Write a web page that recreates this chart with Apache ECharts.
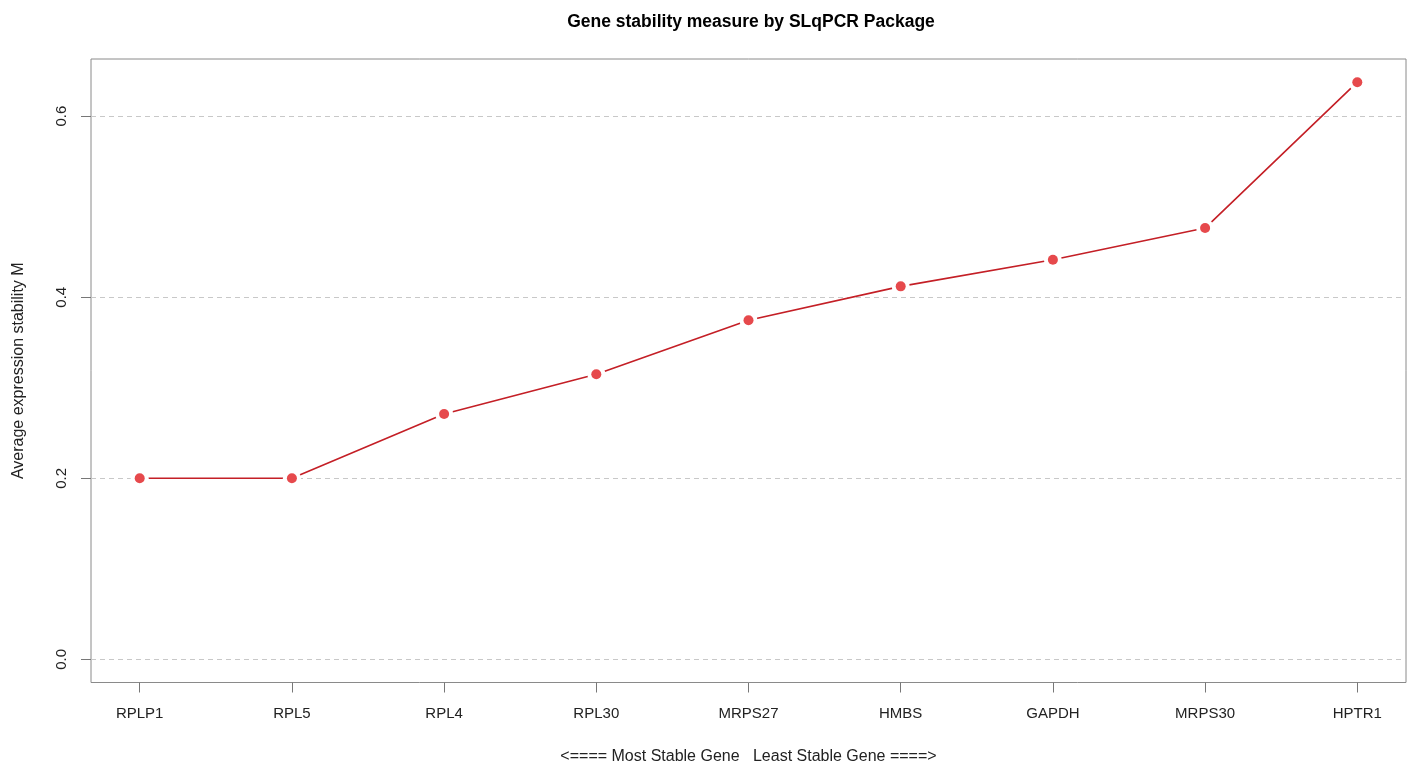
<!DOCTYPE html>
<html>
<head>
<meta charset="utf-8">
<title>Gene stability measure by SLqPCR Package</title>
<script src="https://cdn.jsdelivr.net/npm/echarts@6/dist/echarts.min.js"></script>
<style>
  html, body { margin: 0; padding: 0; background: #ffffff; }
  #chart { width: 1411px; height: 765px; }
</style>
</head>
<body>
<div id="chart"></div>
<script>
// Reference genes ordered from most to least stable
const genes = ['RPLP1', 'RPL5', 'RPL4', 'RPL30', 'MRPS27', 'HMBS', 'GAPDH', 'MRPS30', 'HPTR1'];
// Average expression stability M for each gene
const stabilityM = [0.200, 0.200, 0.271, 0.315, 0.3745, 0.412, 0.4414, 0.4764, 0.6375];
// Y tick values
const yTicks = [0.0, 0.2, 0.4, 0.6];

const positions = genes.map((g, i) => i + 1);
const points = stabilityM.map((v, i) => [positions[i], v]);

const FONT = 'Liberation Sans, Arial, Helvetica, sans-serif';
const chart = echarts.init(document.getElementById('chart'), null, { renderer: 'canvas' });

chart.setOption({
  backgroundColor: '#ffffff',
  animation: false,
  title: {
    text: 'Gene stability measure by SLqPCR Package',
    left: 746,
    top: 8,
    textAlign: 'center',
    textStyle: { fontFamily: FONT, fontSize: 17.5, fontWeight: 'bold', color: '#000' }
  },
  grid: {
    left: 91,
    right: 5,
    top: 59,
    bottom: 82.5,
    outerBoundsMode: 'none',
    containLabel: false,
    show: true,
    borderColor: '#8a8a8a',
    borderWidth: 1,
    backgroundColor: 'transparent'
  },
  xAxis: {
    type: 'value',
    min: 0.68,
    max: 9.32,
    position: 'bottom',
    name: '<==== Most Stable Gene   Least Stable Gene ====>',
    nameLocation: 'middle',
    nameGap: 66,
    nameTextStyle: { fontFamily: FONT, fontSize: 16, color: '#222' },
    axisLine: { show: false, onZero: false },
    splitLine: { show: false },
    axisTick: {
      show: true,
      customValues: positions,
      length: 10,
      lineStyle: { color: '#777', width: 1 }
    },
    axisLabel: {
      show: true,
      customValues: positions,
      margin: 24,
      fontFamily: FONT,
      fontSize: 15,
      color: '#222',
      formatter: v => genes[Math.round(v) - 1] || ''
    }
  },
  yAxis: {
    type: 'value',
    min: -0.0255,
    max: 0.6631,
    name: 'Average expression stability M',
    nameLocation: 'middle',
    nameRotate: 90,
    nameGap: 64,
    nameTextStyle: { fontFamily: FONT, fontSize: 16, color: '#222' },
    axisLine: { show: false, onZero: false },
    splitLine: { show: false },
    axisTick: {
      show: true,
      customValues: yTicks,
      length: 10,
      lineStyle: { color: '#777', width: 1 }
    },
    axisLabel: {
      show: true,
      customValues: yTicks,
      rotate: 90,
      margin: 22,
      fontFamily: FONT,
      fontSize: 15,
      color: '#222',
      formatter: v => v.toFixed(1)
    }
  },
  series: [
    {
      // connecting line; white discs leave a gap around each point
      type: 'line',
      data: points,
      symbol: 'circle',
      symbolSize: 18,
      showSymbol: true,
      itemStyle: { color: '#ffffff', borderWidth: 0 },
      lineStyle: { color: '#c41f26', width: 1.6 },
      silent: true,
      z: 3,
      markLine: {
        silent: true,
        symbol: ['none', 'none'],
        label: { show: false },
        lineStyle: { color: '#c8c8c8', type: [5, 4], width: 1 },
        data: yTicks.map(t => ({ yAxis: t })),
        z: 1
      }
    },
    {
      type: 'scatter',
      data: points,
      symbol: 'circle',
      symbolSize: 10,
      itemStyle: { color: '#e01b1f' },
      silent: true,
      z: 5
    }
  ]
});
</script>
</body>
</html>
